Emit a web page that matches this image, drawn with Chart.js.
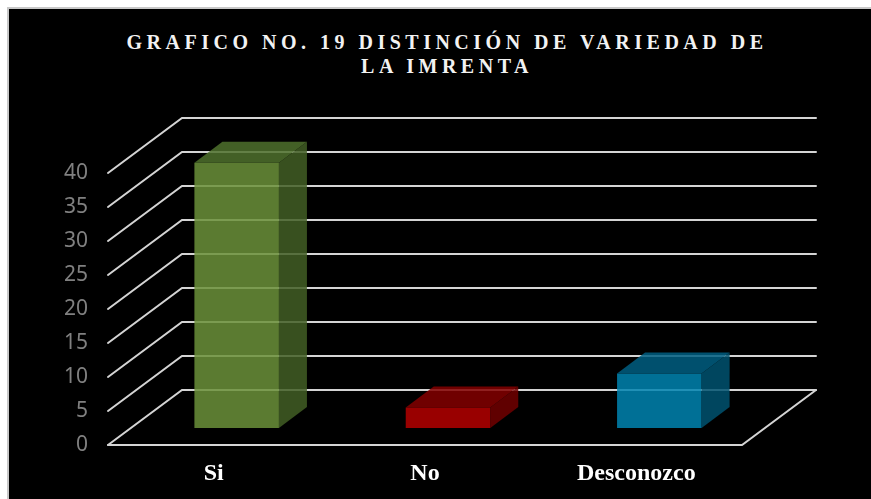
<!DOCTYPE html>
<html>
<head>
<meta charset="utf-8">
<script src="https://cdn.jsdelivr.net/npm/chart.js@4"></script>
<style>
  html, body { margin: 0; padding: 0; background: #fff; overflow: hidden; width: 871px; height: 499px; }
  .frame {
    position: absolute; left: 7px; top: 7px; width: 864px; height: 492px; box-sizing: border-box;
    background: #000; border-left: 2px solid #c8c8c8; border-top: 2px solid #c8c8c8;
  }
  .title {
    position: absolute; left: 14px; width: 866px; top: 30px;
    text-align: center; color: #f2f2f2;
    font: bold 20px "Liberation Serif", "Times New Roman", serif;
    line-height: 24px; letter-spacing: 4.5px;
  }
  canvas { position: absolute; left: 0; top: 0; }
</style>
</head>
<body>
<div class="frame"></div>
<div class="title">GRAFICO NO. 19 DISTINCIÓN DE VARIEDAD DE<br>LA IMRENTA</div>
<canvas id="c" width="871" height="499"></canvas>
<script>
// data
const categories = ['Si', 'No', 'Desconozco'];
const values = [39, 3, 8];
const yTicks = [0, 5, 10, 15, 20, 25, 30, 35, 40];

// face colours per bar: front / top / side
const faces = [
  { front: 'rgba(107,145,58,0.85)', top: 'rgba(79,113,45,0.85)', side: 'rgba(66,94,36,0.85)' },
  { front: 'rgba(180,0,0,0.85)',    top: 'rgba(132,0,0,0.85)',   side: 'rgba(113,0,0,0.85)' },
  { front: 'rgba(0,132,176,0.85)',  top: 'rgba(0,94,129,0.85)',  side: 'rgba(0,82,112,0.85)' },
];

// ── 3D depth offsets (pixels) ─────────────────────────
const FRONT = { dx: -23, dy: 17 };   // floor front edge / tick labels
const BACK  = { dx: 51,  dy: -38 };  // back wall
const DEPTH = { dx: 28,  dy: -21 };  // bar thickness

const wallPlugin = {
  id: 'wall',
  beforeDatasetsDraw(chart) {
    const { ctx, chartArea: a, scales: { y } } = chart;
    ctx.save();
    ctx.strokeStyle = '#d4d4d4';
    ctx.lineWidth = 2;
    ctx.lineCap = 'round';
    y.ticks.forEach(t => {
      const py = y.getPixelForValue(t.value);
      ctx.beginPath();
      ctx.moveTo(a.left + FRONT.dx, py + FRONT.dy);
      ctx.lineTo(a.left + BACK.dx, py + BACK.dy);
      ctx.lineTo(a.right + BACK.dx, py + BACK.dy);
      ctx.stroke();
    });
    // floor
    const p0 = y.getPixelForValue(0);
    ctx.beginPath();
    ctx.moveTo(a.left + FRONT.dx, p0 + FRONT.dy);
    ctx.lineTo(a.right + FRONT.dx, p0 + FRONT.dy);
    ctx.lineTo(a.right + BACK.dx, p0 + BACK.dy);
    ctx.stroke();
    ctx.restore();
  },
  afterDatasetsDraw(chart) {
    const { ctx } = chart;
    const meta = chart.getDatasetMeta(0);
    ctx.save();
    meta.data.forEach((bar, i) => {
      const { x, y, base, width } = bar.getProps(['x', 'y', 'base', 'width'], true);
      const xl = x - width / 2, xr = x + width / 2;
      ctx.fillStyle = faces[i].top;
      ctx.beginPath();
      ctx.moveTo(xl, y); ctx.lineTo(xr, y);
      ctx.lineTo(xr + DEPTH.dx, y + DEPTH.dy); ctx.lineTo(xl + DEPTH.dx, y + DEPTH.dy);
      ctx.closePath(); ctx.fill();
      ctx.fillStyle = faces[i].side;
      ctx.beginPath();
      ctx.moveTo(xr, y); ctx.lineTo(xr + DEPTH.dx, y + DEPTH.dy);
      ctx.lineTo(xr + DEPTH.dx, base + DEPTH.dy); ctx.lineTo(xr, base);
      ctx.closePath(); ctx.fill();
    });
    ctx.restore();
  },
};

new Chart(document.getElementById('c'), {
  type: 'bar',
  data: {
    labels: categories,
    datasets: [{
      data: values,
      backgroundColor: faces.map(f => f.front),
      borderWidth: 0,
      categoryPercentage: 1,
      barPercentage: 0.4,
    }],
  },
  options: {
    responsive: false,
    animation: false,
    events: [],
    layout: { padding: { left: 0, right: 106, top: 156, bottom: 0 } },
    plugins: { legend: { display: false }, title: { display: false }, tooltip: { enabled: false } },
    scales: {
      x: {
        grid: { display: false, drawTicks: false },
        border: { display: false },
        ticks: {
          color: '#ffffff', padding: 31, labelOffset: FRONT.dx,
          font: { family: '"Liberation Serif", "Times New Roman", serif', size: 24, weight: 'bold' },
        },
        afterFit(s) { s.height = 71; },
      },
      y: {
        min: 0, max: 40,
        grid: { display: false, drawTicks: false },
        border: { display: false },
        afterBuildTicks(s) { s.ticks = yTicks.map(v => ({ value: v })); },
        ticks: {
          color: '#808080', padding: 43, labelOffset: FRONT.dy,
          font: { family: '"Noto Sans", sans-serif', size: 21 },
        },
        afterFit(s) { s.width = 131; },
      },
    },
  },
  plugins: [wallPlugin],
});
</script>
</body>
</html>
